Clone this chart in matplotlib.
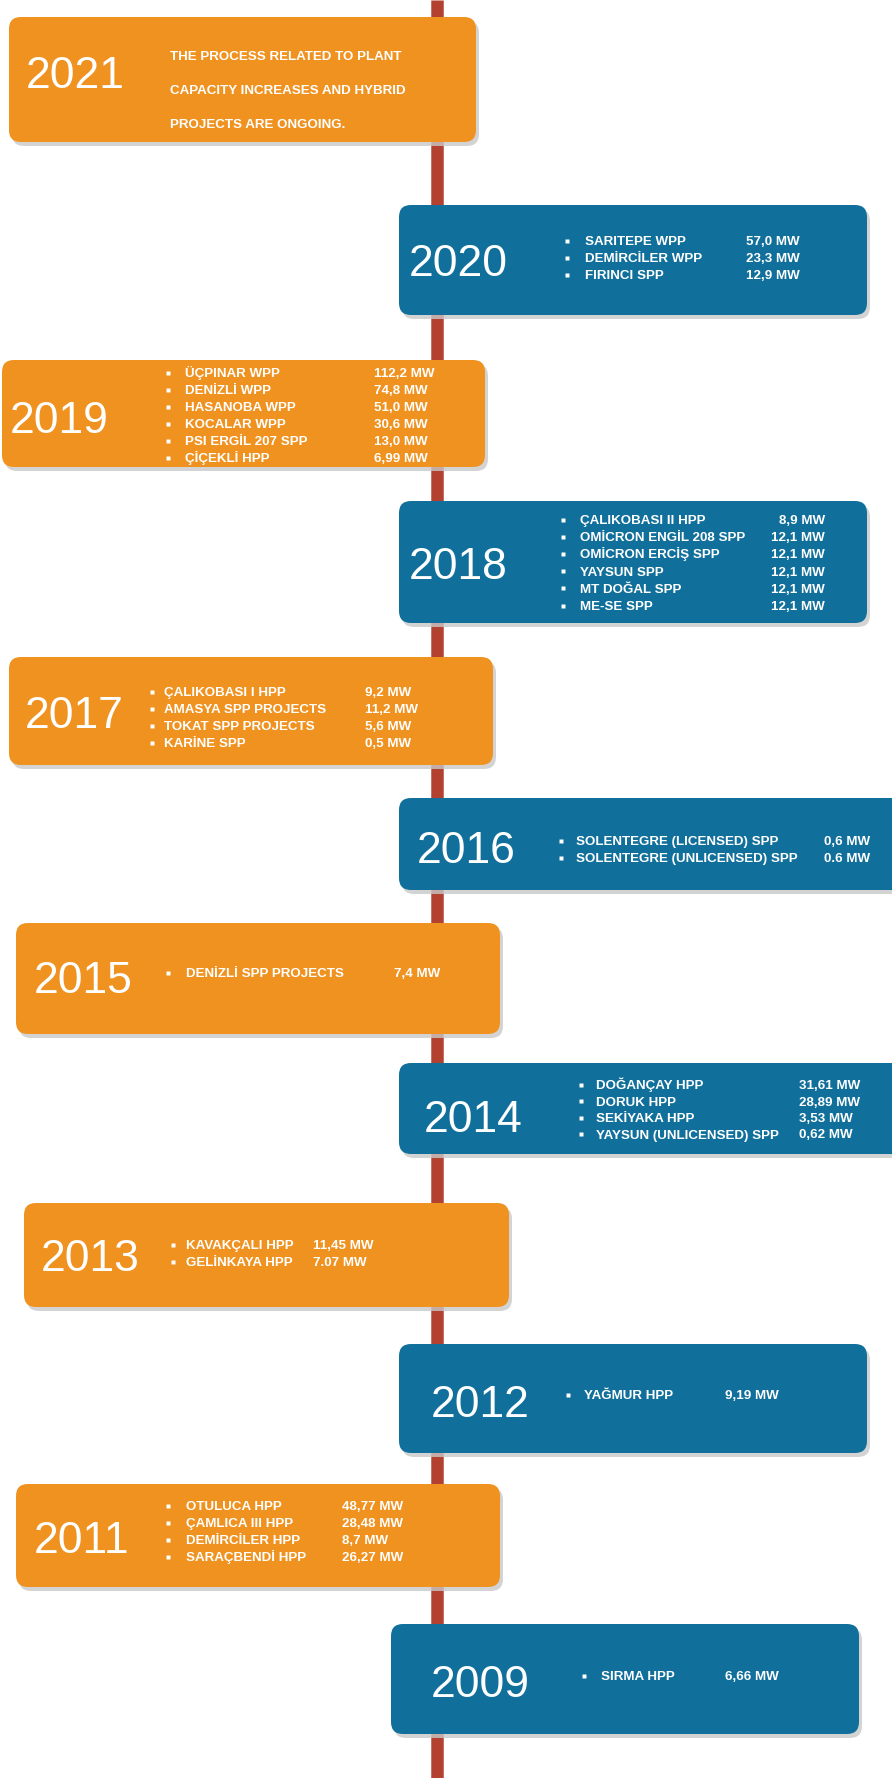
import matplotlib
matplotlib.use("Agg")
import matplotlib.pyplot as plt
from matplotlib.patches import FancyBboxPatch

plt.rcParams['font.family'] = ['Liberation Sans', 'DejaVu Sans']

# ---- data ----
years = ['2021', '2020', '2019', '2018', '2017', '2016', '2015',
         '2014', '2013', '2012', '2011', '2009']
sides = ['L', 'R', 'L', 'R', 'L', 'R', 'L', 'R', 'L', 'R', 'L', 'R']
note_2021 = ['THE PROCESS RELATED TO PLANT',
             'CAPACITY INCREASES AND HYBRID',
             'PROJECTS ARE ONGOING.']
plants = {
    '2020': ['SARITEPE WPP', 'DEMİRCİLER WPP', 'FIRINCI SPP'],
    '2019': ['ÜÇPINAR WPP', 'DENİZLİ WPP', 'HASANOBA WPP', 'KOCALAR WPP',
             'PSI ERGİL 207 SPP', 'ÇİÇEKLİ HPP'],
    '2018': ['ÇALIKOBASI II HPP', 'OMİCRON ENGİL 208 SPP', 'OMİCRON ERCİŞ SPP',
             'YAYSUN SPP', 'MT DOĞAL SPP', 'ME-SE SPP'],
    '2017': ['ÇALIKOBASI I HPP', 'AMASYA SPP PROJECTS', 'TOKAT SPP PROJECTS',
             'KARİNE SPP'],
    '2016': ['SOLENTEGRE (LICENSED) SPP', 'SOLENTEGRE (UNLICENSED) SPP'],
    '2015': ['DENİZLİ SPP PROJECTS'],
    '2014': ['DOĞANÇAY HPP', 'DORUK HPP', 'SEKİYAKA HPP',
             'YAYSUN (UNLICENSED) SPP'],
    '2013': ['KAVAKÇALI HPP', 'GELİNKAYA HPP'],
    '2012': ['YAĞMUR HPP'],
    '2011': ['OTULUCA HPP', 'ÇAMLICA III HPP', 'DEMİRCİLER HPP',
             'SARAÇBENDİ HPP'],
    '2009': ['SIRMA HPP'],
}
capacity = {
    '2020': ['57,0 MW', '23,3 MW', '12,9 MW'],
    '2019': ['112,2 MW', '74,8 MW', '51,0 MW', '30,6 MW', '13,0 MW', '6,99 MW'],
    '2018': ['8,9 MW', '12,1 MW', '12,1 MW', '12,1 MW', '12,1 MW', '12,1 MW'],
    '2017': ['9,2 MW', '11,2 MW', '5,6 MW', '0,5 MW'],
    '2016': ['0,6 MW', '0.6 MW'],
    '2015': ['7,4 MW'],
    '2014': ['31,61 MW', '28,89 MW', '3,53 MW', '0,62 MW'],
    '2013': ['11,45 MW', '7.07 MW'],
    '2012': ['9,19 MW'],
    '2011': ['48,77 MW', '28,48 MW', '8,7 MW', '26,27 MW'],
    '2009': ['6,66 MW'],
}

# ---- layout (pixels) ----
# box x0, y0, x1, y1, year x, year centre y, bullet x, name x, value x, value align, first row y, row step
layout = {
    '2021': (9, 17, 476, 142, 26, 72, None, 170, None, 'left', 55, 34),
    '2020': (399, 205, 867, 315, 409, 260, 567, 585, 800, 'right', 240, 17),
    '2019': (2, 360, 485, 467, 10, 417, 168, 185, 374, 'left', 372, 17),
    '2018': (399, 501, 867, 623, 409, 563, 563, 580, 825, 'right', 519, 17.2),
    '2017': (9, 657, 493, 765, 25, 712, 152, 164, 365, 'left', 691, 17),
    '2016': (399, 798, 905, 890, 417, 847, 561, 576, 824, 'left', 840, 17),
    '2015': (16, 923, 500, 1034, 34, 977, 168, 186, 394, 'left', 972, 17),
    '2014': (399, 1063, 905, 1154, 424, 1116, 581, 596, 799, 'left', 1084, 16.5),
    '2013': (24, 1203, 509, 1307, 41, 1255, 173, 186, 313, 'left', 1244, 17),
    '2012': (399, 1344, 867, 1453, 431, 1401, 568, 584, 725, 'left', 1394, 17),
    '2011': (16, 1484, 500, 1587, 34, 1537, 168, 186, 342, 'left', 1505, 17),
    '2009': (391, 1624, 859, 1734, 431, 1681, 584, 601, 725, 'left', 1675, 17),
}

orange = '#F0921F'
blue = '#11709B'
line_col = '#B3412F'

W, H = 892, 1778
fig = plt.figure(figsize=(W / 100, H / 100), dpi=100)
ax = fig.add_axes([0, 0, 1, 1])
ax.set_xlim(0, W)
ax.set_ylim(H, 0)
ax.axis('off')

# timeline
ax.plot([437, 437], [0, H], color=line_col, lw=9.0, solid_capstyle='butt', zorder=1)

year_fs = 32
item_fs = 9.6

for yr, side in zip(years, sides):
    x0, y0, x1, y1, yx, ycy, bx, nx, vx, va_, ry, rstep = layout[yr]
    col = orange if side == 'L' else blue
    shadow = FancyBboxPatch((x0 + 3, y0 + 4), x1 - x0, y1 - y0,
                            boxstyle='round,pad=0,rounding_size=12',
                            fc='#c9c9c9', ec='none', alpha=0.8, zorder=2)
    ax.add_patch(shadow)
    box = FancyBboxPatch((x0, y0), x1 - x0, y1 - y0,
                         boxstyle='round,pad=0,rounding_size=12',
                         fc=col, ec='none', zorder=3)
    ax.add_patch(box)
    ax.text(yx, ycy + 16, yr, color='white', fontsize=year_fs,
            ha='left', va='baseline', zorder=4)

    if yr == '2021':
        for i, s in enumerate(note_2021):
            ax.text(nx, ry + i * rstep + 5, s, color='white', fontsize=item_fs,
                    fontweight='bold', ha='left', va='baseline', zorder=4)
        continue

    for i, (name, val) in enumerate(zip(plants[yr], capacity[yr])):
        yy = ry + i * rstep + 5
        ax.plot(bx, yy - 4.5, marker='s', ms=3.2, color='white', mec='none', zorder=4)
        ax.text(nx, yy, name, color='white', fontsize=item_fs,
                fontweight='bold', ha='left', va='baseline', zorder=4)
        ax.text(vx, yy, val, color='white', fontsize=item_fs,
                fontweight='bold', ha=va_, va='baseline', zorder=4)

fig.savefig('out.png', dpi=100, facecolor='white')
